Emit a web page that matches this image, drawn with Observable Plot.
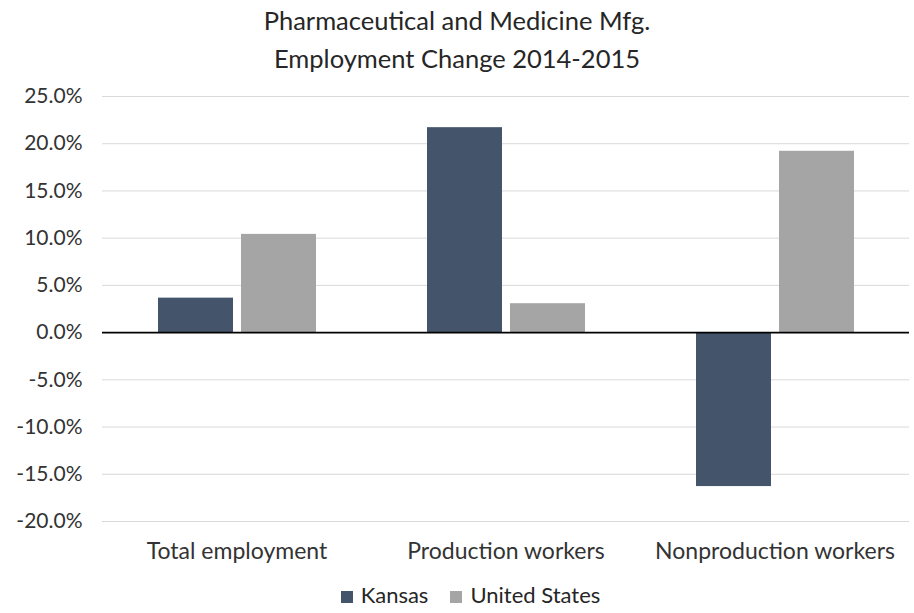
<!DOCTYPE html>
<html>
<head>
<meta charset="utf-8">
<script src="https://cdn.jsdelivr.net/npm/d3@7"></script>
<script src="https://cdn.jsdelivr.net/npm/@observablehq/plot@0.6"></script>
<style>
  body { margin: 0; background: #fff; font-family: Lato, "Open Sans", sans-serif; }
  #title { width: 914px; text-align: center; font-size: 25.5px; line-height: 38px; padding-top: 1px; color: #262626; }
  #legend { width: 914px; display: flex; justify-content: center; gap: 22px; font-size: 22px; color: #262626; margin-top: 16px; padding-left: 27px; box-sizing: border-box; line-height: 26px; }
  #legend span.sw { display: inline-block; width: 12px; height: 12px; margin-right: 8px; vertical-align: 0px; }
</style>
</head>
<body>
<div id="title">Pharmaceutical and Medicine Mfg.<br>Employment Change 2014-2015</div>
<div id="chart"></div>
<div id="legend"></div>
<script>
const categories = ["Total employment", "Production workers", "Nonproduction workers"];
const series = ["Kansas", "United States"];
const kansas = [3.65, 21.7, -16.3];
const unitedStates = [10.4, 3.06, 19.2];
const yTicks = [-20, -15, -10, -5, 0, 5, 10, 15, 20, 25];
const colors = ["#44546a", "#a5a5a5"];

const data = [];
categories.forEach((c, i) => {
  data.push({category: c, series: series[0], value: kansas[i]});
  data.push({category: c, series: series[1], value: unitedStates[i]});
});

const chart = Plot.plot({
  width: 914,
  height: 489,
  marginTop: 19,
  marginLeft: 101,
  marginRight: 4,
  marginBottom: 45,
  style: {fontFamily: "Lato, 'Open Sans', sans-serif", fontSize: "20px", color: "#333"},
  fx: {domain: categories, padding: 0, label: null},
  x: {domain: series, paddingInner: 0.1, paddingOuter: 0.67, axis: null},
  y: {domain: [-20, 25], ticks: yTicks, label: null},
  color: {domain: series, range: colors},
  marks: [
    Plot.ruleY(yTicks.filter(d => d !== 0), {stroke: "#d9d9d9", strokeWidth: 1}),
    Plot.axisY({ticks: yTicks, tickSize: 0, tickPadding: 20, tickFormat: d => d.toFixed(1) + "%", label: null, fill: "#333", fontSize: 21}),
    Plot.axisFx({anchor: "bottom", tickSize: 0, tickPadding: 21, label: null, fill: "#333", fontSize: 23}),
    Plot.barY(data, {fx: "category", x: "series", y: "value", fill: "series"}),
    Plot.ruleY([0], {stroke: "#000", strokeWidth: 1.8})
  ]
});
document.getElementById("chart").appendChild(chart);

const legend = document.getElementById("legend");
series.forEach((s, i) => {
  const item = document.createElement("div");
  item.innerHTML = `<span class="sw" style="background:${colors[i]}"></span>${s}`;
  legend.appendChild(item);
});
</script>
</body>
</html>
